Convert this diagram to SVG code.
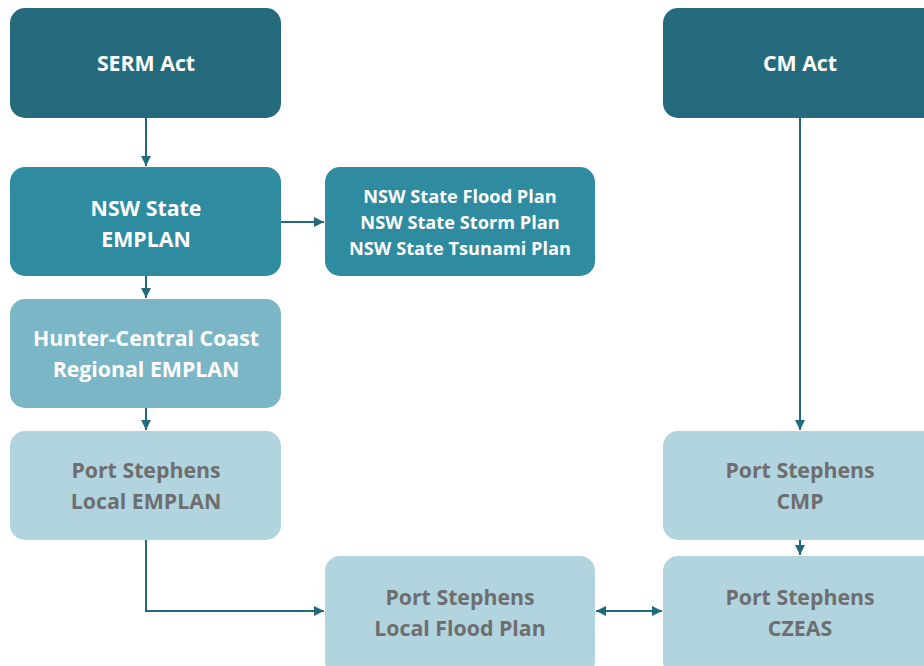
<svg xmlns="http://www.w3.org/2000/svg" width="924" height="666" viewBox="0 0 924 666">
<defs>
<marker id="ah" viewBox="0 0 10 10" refX="10" refY="5" markerWidth="5" markerHeight="5" orient="auto-start-reverse" markerUnits="strokeWidth">
<path d="M0,0 L10,5 L0,10 z" fill="#21697b"/>
</marker>
<style>
.n rect{stroke:none}
.d1{fill:#256b7d}
.d2{fill:#2f8ba0}
.d3{fill:#7bb6c7}
.d4{fill:#b1d4de}
text{font-family:"Open Sans","Liberation Sans",sans-serif;font-weight:bold;text-anchor:middle}
.w{fill:#ffffff;font-size:21.3px}
.g{fill:#6e6e6e;font-size:21.3px}
.s{fill:#ffffff;font-size:18.2px}
.c path{fill:none;stroke:#21697b;stroke-width:2;marker-end:url(#ah)}
</style>
</defs>
<rect width="924" height="666" fill="#ffffff"/>
<g class="c" id="connectors">
<path d="M146,118 V166"/>
<path d="M281,222 H324"/>
<path d="M146,276 V298"/>
<path d="M146,408 V430"/>
<path d="M146,540 V611 H324"/>
<path d="M800,118 V430"/>
<path d="M800,540 V555"/>
<path d="M596,611 H662" marker-start="url(#ah)"/>
</g>
<g class="n" id="serm"><rect class="d1" x="10" y="8" width="271" height="110" rx="15"/><text class="w" x="146" y="71">SERM Act</text></g>
<g class="n" id="nswstate"><rect class="d2" x="10" y="167" width="271" height="109" rx="15"/><text class="w" x="146" y="216">NSW State</text><text class="w" x="146" y="247">EMPLAN</text></g>
<g class="n" id="nswplans"><rect class="d2" x="325" y="167" width="270" height="109" rx="15"/><text class="s" x="460" y="203">NSW State Flood Plan</text><text class="s" x="460" y="229">NSW State Storm Plan</text><text class="s" x="460" y="255">NSW State Tsunami Plan</text></g>
<g class="n" id="hunter"><rect class="d3" x="10" y="299" width="271" height="109" rx="15"/><text class="w" x="146" y="346">Hunter-Central Coast</text><text class="w" x="146" y="377">Regional EMPLAN</text></g>
<g class="n" id="localemplan"><rect class="d4" x="10" y="431" width="271" height="109" rx="15"/><text class="g" x="146" y="478">Port Stephens</text><text class="g" x="146" y="509">Local EMPLAN</text></g>
<g class="n" id="floodplan"><rect class="d4" x="325" y="556" width="270" height="120" rx="15"/><text class="g" x="460" y="605">Port Stephens</text><text class="g" x="460" y="636">Local Flood Plan</text></g>
<g class="n" id="cmact"><rect class="d1" x="663" y="8" width="275" height="110" rx="15"/><text class="w" x="800" y="71">CM Act</text></g>
<g class="n" id="cmp"><rect class="d4" x="663" y="431" width="275" height="109" rx="15"/><text class="g" x="800" y="478">Port Stephens</text><text class="g" x="800" y="509">CMP</text></g>
<g class="n" id="czeas"><rect class="d4" x="663" y="556" width="275" height="120" rx="15"/><text class="g" x="800" y="605">Port Stephens</text><text class="g" x="800" y="636">CZEAS</text></g>
</svg>
